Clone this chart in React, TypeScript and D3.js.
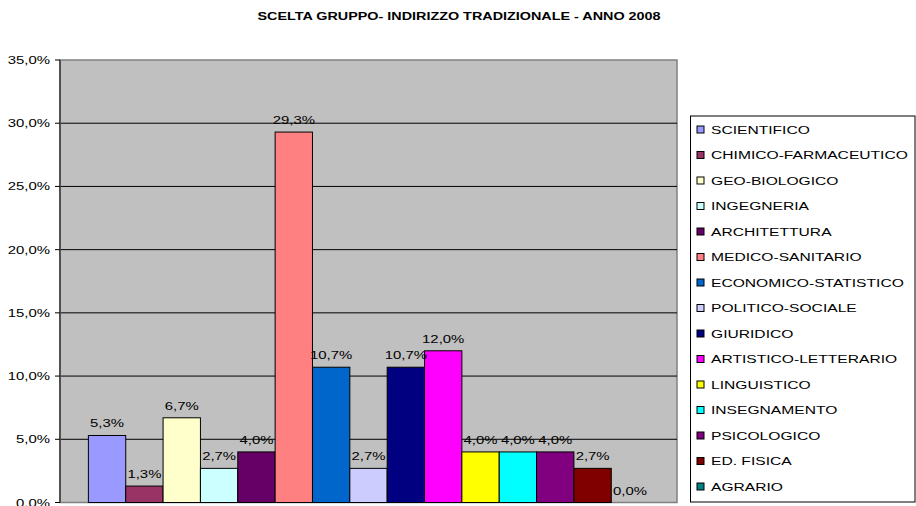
import React from 'react';
import * as d3 from 'd3';

const categories = [
  'SCIENTIFICO', 'CHIMICO-FARMACEUTICO', 'GEO-BIOLOGICO', 'INGEGNERIA', 'ARCHITETTURA',
  'MEDICO-SANITARIO', 'ECONOMICO-STATISTICO', 'POLITICO-SOCIALE', 'GIURIDICO',
  'ARTISTICO-LETTERARIO', 'LINGUISTICO', 'INSEGNAMENTO', 'PSICOLOGICO', 'ED. FISICA', 'AGRARIO',
];
const values = [5.3, 1.3, 6.7, 2.7, 4.0, 29.3, 10.7, 2.7, 10.7, 12.0, 4.0, 4.0, 4.0, 2.7, 0.0];
const colors = [
  '#9999FF', '#993366', '#FFFFCC', '#CCFFFF', '#660066', '#FF8080', '#0066CC', '#CCCCFF',
  '#000080', '#FF00FF', '#FFFF00', '#00FFFF', '#800080', '#800000', '#008080',
];
const yTicks = [0, 5, 10, 15, 20, 25, 30, 35];
const title = 'SCELTA GRUPPO- INDIRIZZO TRADIZIONALE - ANNO 2008';

const W = 916;
const H = 506;
const plot = { left: 60, right: 677, top: 60, bottom: 502.5 };
const FONT = 'Liberation Sans, Arial, sans-serif';
const SX = 1.42;

const fmt = (v: number) => d3.format('.1f')(v).replace('.', ',') + '%';

// stretched text, as in the original rendering
const SText = ({ x, y, anchor = 'start', size = 10.5, weight = 'normal', sx = SX, children }: any) => (
  <g transform={`translate(${x},${y}) scale(${sx},1)`}>
    <text textAnchor={anchor} fontSize={size} fontWeight={weight} fontFamily={FONT} fill="#000">
      {children}
    </text>
  </g>
);

export default function App() {
  const x = d3.scaleBand<string>()
    .domain(categories)
    .range([plot.left, plot.right])
    .paddingInner(0)
    .paddingOuter(0.76);

  const y = d3.scaleLinear().domain([0, 35]).range([plot.bottom, plot.top]);

  const legendTop = 116;
  const legendRow = 25.5;

  return (
    <svg width={W} height={H} style={{ position: 'absolute', left: 0, top: 0, background: '#fff' }}>
      <SText x={459} y={20} anchor="middle" size={10.5} weight="bold" sx={1.37}>{title}</SText>

      <rect x={plot.left} y={plot.top} width={plot.right - plot.left} height={plot.bottom - plot.top}
        fill="#C0C0C0" stroke="#808080" strokeWidth={1.5} />

      {yTicks.filter(t => t > 0 && t < 35).map(t => (
        <line key={t} x1={plot.left} x2={plot.right} y1={y(t)} y2={y(t)} stroke="#000" strokeWidth={1} />
      ))}

      <line x1={plot.left} x2={plot.left} y1={plot.top} y2={plot.bottom} stroke="#505050" strokeWidth={2} />
      {yTicks.map(t => (
        <g key={t}>
          <line x1={plot.left - 5} x2={plot.left} y1={y(t)} y2={y(t)} stroke="#000" strokeWidth={1} />
          <SText x={50} y={y(t) + 4} anchor="end">{fmt(t)}</SText>
        </g>
      ))}

      {categories.map((c, i) => (
        <rect key={c} x={x(c)} y={y(values[i])} width={x.bandwidth()} height={y(0) - y(values[i])}
          fill={colors[i]} stroke="#000" strokeWidth={1} />
      ))}

      {categories.map((c, i) => (
        <SText key={c} x={(x(c) as number) + x.bandwidth() / 2} y={y(values[i]) - 8} anchor="middle">
          {fmt(values[i])}
        </SText>
      ))}

      <rect x={690.5} y={legendTop} width={224.5} height={386} fill="#fff" stroke="#000" strokeWidth={1} />
      {categories.map((c, i) => {
        const cy = 129.5 + i * legendRow;
        return (
          <g key={c}>
            <rect x={697} y={cy - 3.5} width={7} height={7} fill={colors[i]} stroke="#000" strokeWidth={1} />
            <SText x={711} y={cy + 4} size={11}>{c}</SText>
          </g>
        );
      })}
    </svg>
  );
}
